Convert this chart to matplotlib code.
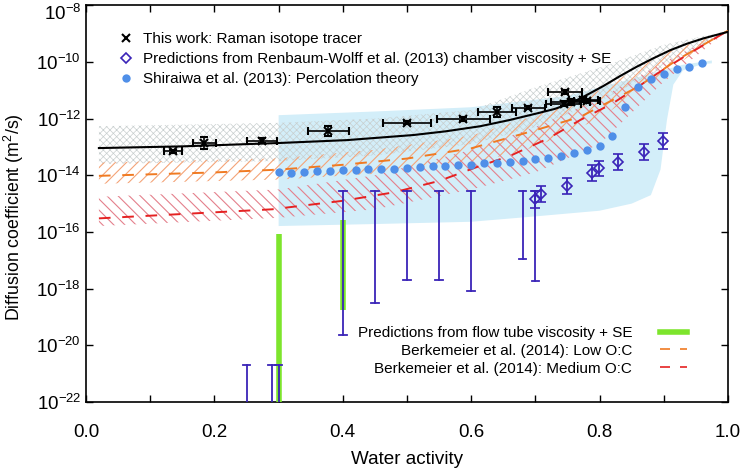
import numpy as np
import matplotlib
matplotlib.use("Agg")
import matplotlib.pyplot as plt
from matplotlib.lines import Line2D

plt.rcParams['font.family'] = ['Liberation Sans', 'DejaVu Sans']
plt.rcParams['mathtext.fontset'] = 'custom'
plt.rcParams['mathtext.rm'] = 'Liberation Sans'
plt.rcParams['mathtext.it'] = 'Liberation Sans:italic'

# ---- data (log10 of D) ----
# this work: Raman isotope tracer
raman_aw = [0.135, 0.184, 0.274, 0.377, 0.50, 0.588, 0.64, 0.689, 0.746, 0.744, 0.755, 0.775, 0.78]
raman_logD = [-13.15, -12.86, -12.78, -12.44, -12.15, -12.03, -11.76, -11.62, -11.06, -11.47, -11.42, -11.33, -11.38]
raman_xerr = [0.014, 0.018, 0.024, 0.032, 0.038, 0.042, 0.030, 0.026, 0.026, 0.027, 0.030, 0.022, 0.02]
raman_yerr = [0.05, 0.2, 0.08, 0.18, 0.05, 0.07, 0.18, 0.05, 0.08, 0.1, 0.1, 0.08, 0.08]

# fit through this work and its uncertainty band
fit_aw = [0.02, 0.15, 0.302, 0.406, 0.51, 0.56, 0.614, 0.66, 0.702, 0.73, 0.754, 0.78,
          0.806, 0.832, 0.858, 0.884, 0.91, 0.936, 0.962, 1.0]
fit_logD = [-13.04, -12.98, -12.86, -12.76, -12.58, -12.45, -12.27, -12.05, -11.82, -11.66,
            -11.47, -11.17, -10.85, -10.5, -10.17, -9.87, -9.59, -9.36, -9.17, -8.94]
grey_aw = [0.02, 0.3, 0.45, 0.6, 0.7, 0.8, 0.9, 1.0]
grey_hi = [-12.27, -12.15, -12.0, -11.7, -10.9, -10.2, -9.4, -8.9]
grey_lo = [-13.6, -13.5, -13.3, -12.9, -12.3, -11.4, -10.2, -8.9]

# Renbaum-Wolff et al. (2013) chamber viscosity + SE
rw_aw = [0.699, 0.709, 0.749, 0.789, 0.799, 0.828, 0.869, 0.899]
rw_logD = [-14.85, -14.66, -14.37, -13.91, -13.76, -13.52, -13.19, -12.78]
rw_err = [0.29, 0.28, 0.29, 0.28, 0.28, 0.28, 0.28, 0.28]
# bars whose central value lies off scale
rwbar_aw = [0.25, 0.29, 0.30, 0.40, 0.45, 0.50, 0.55, 0.60, 0.68, 0.70]
rwbar_top = [-20.69, -20.69, -20.69, -14.56, -14.56, -14.56, -14.56, -14.56, -14.56, -14.56]
rwbar_bot = [-23.0, -23.0, -23.0, -19.64, -18.50, -17.70, -17.70, -18.08, -16.97, -17.72]

# Shiraiwa et al. (2013) percolation theory
perc_aw = [0.30, 0.32, 0.34, 0.36, 0.38, 0.40, 0.42, 0.44, 0.46, 0.48, 0.50, 0.52, 0.54,
           0.56, 0.58, 0.60, 0.62, 0.64, 0.66, 0.68, 0.70, 0.72, 0.74, 0.76, 0.78, 0.80,
           0.82, 0.84, 0.86, 0.88, 0.90, 0.92, 0.94, 0.96]
perc_logD = [-13.88, -13.91, -13.88, -13.85, -13.85, -13.82, -13.82, -13.79, -13.78, -13.78,
             -13.76, -13.70, -13.68, -13.67, -13.65, -13.62, -13.58, -13.58, -13.54, -13.50,
             -13.44, -13.39, -13.31, -13.23, -13.11, -12.96, -12.62, -11.59, -10.90, -10.62,
             -10.43, -10.26, -10.18, -10.03]
blue_aw = [0.30, 0.45, 0.60, 0.75, 0.85, 0.93, 0.975, 0.975, 0.96, 0.93, 0.915, 0.905,
           0.895, 0.88, 0.85, 0.80, 0.70, 0.60, 0.45, 0.30]
blue_logD = [-11.88, -11.75, -11.6, -11.2, -10.6, -10.1, -9.95, -10.05, -10.08, -10.3, -10.8,
             -12.05, -13.8, -14.7, -15.0, -15.25, -15.45, -15.64, -15.72, -15.79]

# flow tube viscosity + SE
flow_aw = [0.30, 0.40]
flow_top = [-16.07, -15.58]
flow_bot = [-23.0, -18.75]

# Berkemeier et al. (2014)
berk_aw = [0.02, 0.2, 0.3, 0.4, 0.5, 0.6, 0.7, 0.77, 0.82, 0.86, 0.92, 1.0]
low_logD = [-14.02, -13.9, -13.8, -13.63, -13.41, -13.05, -12.41, -11.94, -11.35, -10.88, -9.94, -8.9]
med_aw = [0.02, 0.29, 0.40, 0.48, 0.55, 0.61, 0.66, 0.72, 0.77, 0.82, 0.86, 0.89, 0.94, 1.0]
med_logD = [-15.52, -15.2, -14.9, -14.6, -14.2, -13.7, -13.32, -12.7, -12.05, -11.47, -10.88, -10.41, -9.70, -8.9]
band_aw = [0.02, 0.3, 0.45, 0.6, 0.7, 0.8, 0.9, 1.0]
low_hi = [-13.55, -13.4, -13.1, -12.6, -11.9, -11.0, -9.7, -8.9]
low_lo = [-14.3, -14.15, -13.95, -13.6, -13.0, -12.0, -10.4, -8.9]
med_hi = [-14.76, -14.5, -14.0, -13.1, -12.3, -11.3, -10.0, -8.9]
med_lo = [-15.79, -15.5, -15.2, -14.5, -13.9, -12.9, -10.7, -8.9]


def D(v):
    return 10.0 ** np.asarray(v, dtype=float)


fig = plt.figure(figsize=(7.42, 4.73), dpi=100)
ax = fig.add_axes([0.116, 0.150, 0.865, 0.839])
ax.set_yscale('log')

purple = '#3a24b8'
blue = '#4f8fe8'
green = '#7de52c'

ax.fill(blue_aw, D(blue_logD), color='#d3eef9', lw=0, zorder=1)
plt.rcParams['hatch.linewidth'] = 0.5
ax.fill_between(grey_aw, D(grey_lo), D(grey_hi), facecolor='none', edgecolor='#c8cfcf',
                hatch='xxxxx', lw=0, zorder=2)
plt.rcParams['hatch.linewidth'] = 0.8
ax.fill_between(band_aw, D(low_lo), D(low_hi), facecolor='none', edgecolor='#f4a478',
                hatch='///', lw=0, zorder=2)
ax.fill_between(band_aw, D(med_lo), D(med_hi), facecolor='none', edgecolor='#e4808c',
                hatch='\\\\\\', lw=0, zorder=2)

ax.plot(berk_aw, D(low_logD), color='#f07a22', lw=1.4, dashes=(6, 6), zorder=3)
ax.plot(med_aw, D(med_logD), color='#e52222', lw=1.4, dashes=(6, 6), zorder=3)
ax.plot(fit_aw, D(fit_logD), color='black', lw=1.5, zorder=4)

ax.vlines(flow_aw, D(flow_bot), D(flow_top), color=green, lw=4, zorder=4)

# off-scale Renbaum-Wolff bars
for x, t, b in zip(rwbar_aw, rwbar_top, rwbar_bot):
    ax.plot([x, x], [D(b), D(t)], color=purple, lw=1.3, zorder=5)
    ax.plot([x - 0.006, x + 0.006], [D(t), D(t)], color=purple, lw=1.3, zorder=5)
    if b > -22:
        ax.plot([x - 0.006, x + 0.006], [D(b), D(b)], color=purple, lw=1.3, zorder=5)

ax.plot(perc_aw, D(perc_logD), 'o', color=blue, ms=6, mec='none', zorder=6)

rw_y = D(rw_logD)
rw_lo = rw_y - D(np.array(rw_logD) - np.array(rw_err))
rw_up = D(np.array(rw_logD) + np.array(rw_err)) - rw_y
ax.errorbar(rw_aw, rw_y, yerr=[rw_lo, rw_up], fmt='D', ms=5, mfc='none', mec=purple,
            mew=1.2, ecolor=purple, elinewidth=1.3, capsize=3.5, capthick=1.3, zorder=6)

r_y = D(raman_logD)
r_lo = r_y - D(np.array(raman_logD) - np.array(raman_yerr))
r_up = D(np.array(raman_logD) + np.array(raman_yerr)) - r_y
ax.errorbar(raman_aw, r_y, xerr=raman_xerr, yerr=[r_lo, r_up], fmt='x', ms=6, color='black',
            mew=1.5, elinewidth=1.2, capsize=3, capthick=1.2, zorder=7)

ax.set_xlim(0, 1)
ax.set_ylim(1e-22, 1e-8)
ax.set_xticks(np.arange(0, 1.01, 0.1))
ax.set_xticklabels(['0.0', '', '0.2', '', '0.4', '', '0.6', '', '0.8', '', '1.0'])
yt = [-8, -10, -12, -14, -16, -18, -20, -22]
ax.set_yticks([10.0 ** e for e in yt])
ax.set_yticklabels([''] + ['$10^{%d}$' % e for e in yt[1:]])
ax.annotate('$10^{-8}$', xy=(0, 1e-8), xycoords=('axes fraction', 'data'),
            xytext=(-3.5, -6), textcoords='offset points', ha='right', va='center',
            fontsize=13.5)
ax.minorticks_off()
ax.tick_params(direction='in', top=True, right=True, length=5, width=1, labelsize=13.5)
ax.tick_params(axis='x', pad=16)
ax.tick_params(axis='y', pad=3.5)
for s in ax.spines.values():
    s.set_linewidth(1.2)
ax.set_xlabel('Water activity', fontsize=13.6)
ax.xaxis.set_label_coords(0.5, -0.123)
ax.set_ylabel('Diffusion coefficient (m$^2$/s)', fontsize=12.8, va='center')
ax.yaxis.set_label_coords(-0.112, 0.466)

h1 = [Line2D([], [], ls='none', marker='x', color='black', ms=6, mew=1.5),
      Line2D([], [], ls='none', marker='D', ms=5, mfc='none', mec=purple, mew=1.2),
      Line2D([], [], ls='none', marker='o', ms=6, color=blue, mec='none')]
l1 = ax.legend(h1, ['This work: Raman isotope tracer',
                    'Predictions from Renbaum-Wolff et al. (2013) chamber viscosity + SE',
                    'Shiraiwa et al. (2013): Percolation theory'],
               loc='upper left', bbox_to_anchor=(0.0225, 0.967), frameon=False, fontsize=11,
               handlelength=1.5, handletextpad=0.38, labelspacing=0.4)
ax.add_artist(l1)

h2 = [Line2D([], [], color=green, lw=4),
      Line2D([], [], color='#f07a22', lw=1.2, dashes=(6, 6)),
      Line2D([], [], color='#e52222', lw=1.2, dashes=(6, 6))]
ax.legend(h2, ['Predictions from flow tube viscosity + SE',
               'Berkemeier et al. (2014): Low O:C',
               'Berkemeier et al. (2014): Medium O:C'],
          loc='lower right', bbox_to_anchor=(0.958, 0.032), frameon=False, fontsize=11,
          markerfirst=False, handlelength=1.8, handletextpad=1.8, labelspacing=0.25)

fig.savefig('out.png', dpi=100)
